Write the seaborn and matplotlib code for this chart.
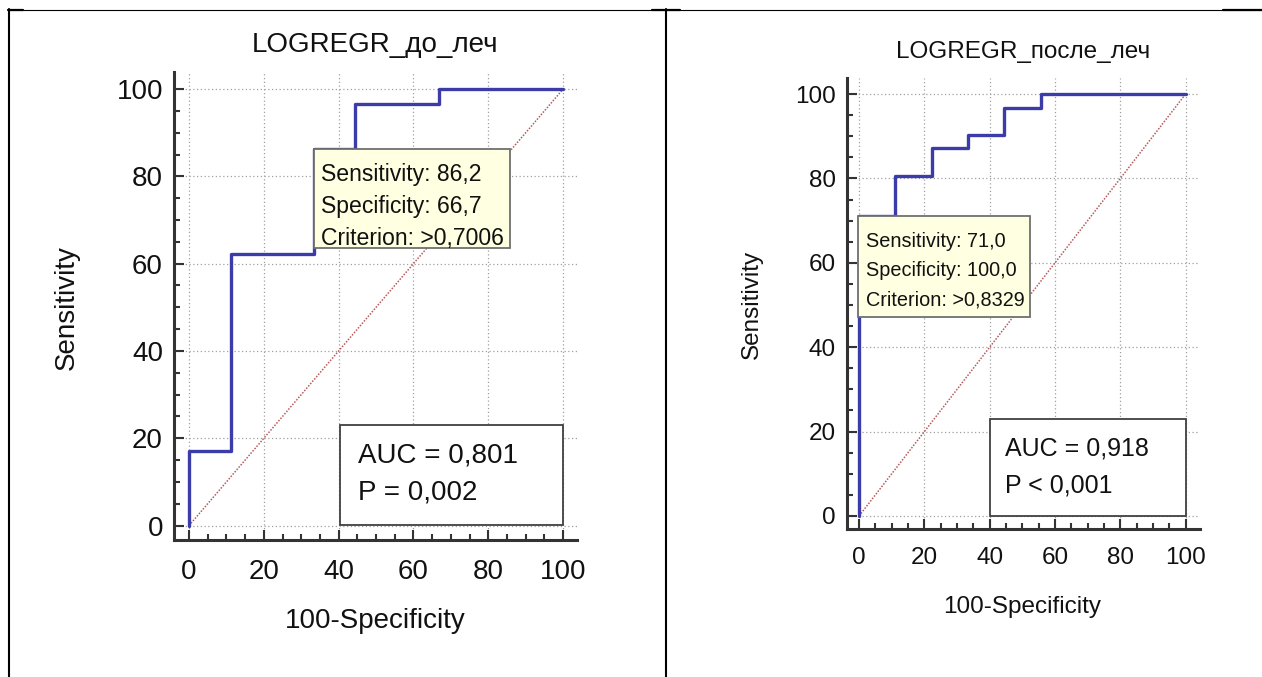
import numpy as np
import seaborn as sns
import matplotlib.pyplot as plt
from matplotlib.lines import Line2D
from matplotlib.patches import Rectangle
from matplotlib.ticker import MultipleLocator

# ROC corners, in percent (100-Specificity, Sensitivity)
fpr_before = [0, 0, 11.1, 11.1, 33.3, 33.3, 44.4, 44.4, 66.7, 66.7, 100]
tpr_before = [0, 17.2, 17.2, 62.1, 62.1, 86.2, 86.2, 96.6, 96.6, 100, 100]

fpr_after = [0, 0, 11.1, 11.1, 22.2, 22.2, 33.3, 33.3, 44.4, 44.4, 55.6, 55.6, 100]
tpr_after = [0, 71.0, 71.0, 80.6, 80.6, 87.1, 87.1, 90.3, 90.3, 96.8, 96.8, 100, 100]

titles = ["LOGREGR_до_леч", "LOGREGR_после_леч"]
tooltips = ["Sensitivity: 86,2\nSpecificity: 66,7\nCriterion: >0,7006",
            "Sensitivity: 71,0\nSpecificity: 100,0\nCriterion: >0,8329"]
auc_texts = ["AUC = 0,801\nP = 0,002", "AUC = 0,918\nP < 0,001"]
tick_vals = [0, 20, 40, 60, 80, 100]

sns.set_theme(style="white")
plt.rcParams['font.family'] = ['Liberation Sans', 'DejaVu Sans']

W, H = 1262, 677
fig = plt.figure(figsize=(W / 100, H / 100), dpi=100)


def px_box(l, t, r, b):
    return [l / W, 1 - b / H, (r - l) / W, (b - t) / H]


panels = [
    dict(rect=px_box(174, 72, 577, 540), xlim=(-4, 103.7), ylim=(-3.3, 103.9),
         fpr=fpr_before, tpr=tpr_before, fs=20, tfs=16.6, afs=20,
         tip=(33.3, 63.6, 85.8, 86.2), tip_txt=(35.2, 73.0), tip_ls=1.5,
         auc=(40.4, 0.2, 100, 23.1), auc_txt=(45.2, 11.8), auc_ls=1.58,
         title_y=1.039, xpad=14, xlab=(0.5, -0.173), ylab=(-0.2655, 0.496)),
    dict(rect=px_box(847, 78, 1200, 529), xlim=(-3.7, 104.4), ylim=(-3.1, 103.8),
         fpr=fpr_after, tpr=tpr_after, fs=17.5, tfs=14.3, afs=18,
         tip=(-0.3, 47.2, 52.3, 71.0), tip_txt=(2.1, 58.2), tip_ls=1.68,
         auc=(40.1, 0, 100, 23), auc_txt=(44.7, 11.6), auc_ls=1.65,
         title_y=1.04, xpad=13, xlab=(0.496, -0.173), ylab=(-0.269, 0.497)),
]

for i, p in enumerate(panels):
    ax = fig.add_axes(p['rect'])
    ax.set_xlim(*p['xlim'])
    ax.set_ylim(*p['ylim'])

    ax.grid(True, which='major', color='#a0a0a0', linestyle=(0, (1, 2)), linewidth=0.9)
    ax.plot([0, 100], [0, 100], color='#b85a5a', linestyle=(0, (1, 1)), linewidth=1.1, zorder=2)
    sns.lineplot(x=p['fpr'], y=p['tpr'], sort=False, estimator=None, ax=ax,
                 color='#3c3ca8', linewidth=2.4, zorder=3)

    # tooltip box
    l, b, r, t = p['tip']
    ax.add_patch(Rectangle((l, b), r - l, t - b, facecolor='#ffffe1', edgecolor='#707070',
                           linewidth=1.3, zorder=4))
    ax.text(p['tip_txt'][0], p['tip_txt'][1], tooltips[i], fontsize=p['tfs'], va='center',
            ha='left', linespacing=p['tip_ls'], color='#111111', zorder=5)

    # AUC box
    l, b, r, t = p['auc']
    ax.add_patch(Rectangle((l, b), r - l, t - b, facecolor='white', edgecolor='#404040',
                           linewidth=1.3, zorder=4))
    ax.text(p['auc_txt'][0], p['auc_txt'][1], auc_texts[i], fontsize=p['afs'], va='center',
            ha='left', linespacing=p['auc_ls'], color='#111111', zorder=5)

    ax.set_xticks(tick_vals)
    ax.set_yticks(tick_vals)
    ax.xaxis.set_minor_locator(MultipleLocator(5))
    ax.yaxis.set_minor_locator(MultipleLocator(5))
    ax.tick_params(which='major', direction='in', length=7.2, width=1.5, color='#333333',
                   labelsize=p['fs'], labelcolor='#111111', bottom=True, left=True)
    ax.tick_params(axis='y', which='major', pad=8)
    ax.tick_params(axis='x', which='major', pad=p['xpad'])
    ax.tick_params(which='minor', direction='in', length=4.3, width=1.5, color='#333333',
                   bottom=True, left=True)

    for side in ['top', 'right']:
        ax.spines[side].set_visible(False)
    for side in ['left', 'bottom']:
        ax.spines[side].set_linewidth(2.2)
        ax.spines[side].set_color('#333333')

    ax.set_title(titles[i], fontsize=p['fs'], y=p['title_y'], va='center', color='#111111')
    ax.set_xlabel("100-Specificity", fontsize=p['fs'], va='center', color='#111111')
    ax.set_ylabel("Sensitivity", fontsize=p['fs'], va='center', ha='center', color='#111111')
    ax.xaxis.set_label_coords(*p['xlab'])
    ax.yaxis.set_label_coords(*p['ylab'])


# table frame lines around the two cells
def hline(x0, x1, y, lw):
    fig.add_artist(Line2D([x0 / W, x1 / W], [1 - y / H, 1 - y / H], color='black',
                          linewidth=lw, transform=fig.transFigure))


def vline(x, y0, y1, lw):
    fig.add_artist(Line2D([x / W, x / W], [1 - y0 / H, 1 - y1 / H], color='black',
                          linewidth=lw, transform=fig.transFigure))


hline(8, 1262, 9.5, 0.8)
hline(8, 23, 10, 1.6)
hline(652, 680, 10, 1.6)
hline(1223, 1262, 10, 1.6)
vline(9, 9, 677, 1.5)
vline(666, 9, 677, 1.5)

fig.savefig("out.png", dpi=100)
